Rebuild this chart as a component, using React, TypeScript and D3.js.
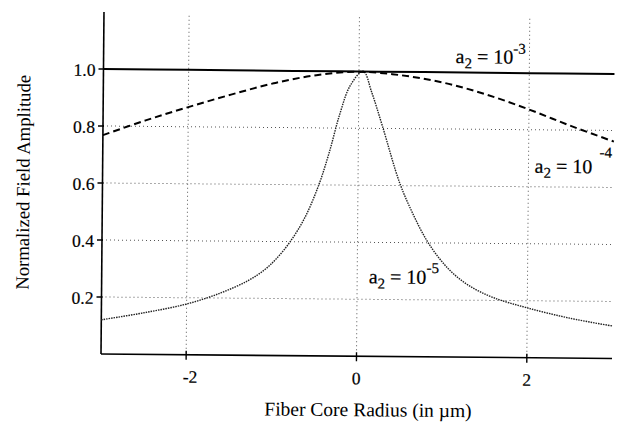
import React from 'react';
import * as d3 from 'd3';

// tick values
const xTicks = [-2, 0, 2];
const yTicks = [0.2, 0.4, 0.6, 0.8, 1.0];

// a2 = 1e-3 (solid)
const radiusA3 = [-3, -2, -1, 0, 1, 2, 3];
const ampA3 = [1.0, 1.0, 0.999, 0.999, 0.999, 0.998, 0.998];

// a2 = 1e-4 (dashed)
const radiusA4 = [-3, -2.5, -2, -1.5, -1, -0.5, 0, 0.5, 1, 1.5, 2, 2.5, 3];
const ampA4 = [0.768, 0.821, 0.869, 0.914, 0.955, 0.985, 0.998, 0.987, 0.962, 0.922, 0.871, 0.814, 0.761];

// a2 = 1e-5 (dotted)
const radiusA5 = [-3, -2.5, -2, -1.6, -1.28, -1.09, -0.95, -0.79, -0.62, -0.46, -0.34, -0.22, -0.1, 0.05, 0.15, 0.28, 0.49, 0.65, 0.81, 0.965, 1.12, 1.32, 1.6, 2, 2.5, 3];
const ampA5 = [0.12, 0.146, 0.178, 0.218, 0.262, 0.3, 0.34, 0.4, 0.485, 0.6, 0.715, 0.85, 0.95, 1.0, 0.928, 0.809, 0.609, 0.5, 0.41, 0.345, 0.295, 0.25, 0.21, 0.175, 0.14, 0.114];

const W = 624;
const H = 425;
const margin = { top: 12, right: 12, bottom: 71, left: 101 };
const font = '"Liberation Serif", "Times New Roman", "DejaVu Serif", serif';
const skew = 0.5; // the original scan is turned slightly clockwise

export default function App() {
  const x = d3.scaleLinear().domain([-3, 3]).range([margin.left, W - margin.right]);
  const y = d3.scaleLinear().domain([0, 1.2]).range([H - margin.bottom, margin.top]);

  const line = d3.line<[number, number]>()
    .x(d => x(d[0]))
    .y(d => y(d[1]))
    .curve(d3.curveCatmullRom.alpha(0.5));

  const pts = (xs: number[], ys: number[]) => xs.map((v, i) => [v, ys[i]] as [number, number]);

  const x0 = x(-3), x1 = x(3), yb = y(0), yt = y(1.2);
  const ink = { stroke: '#000', strokeWidth: 0.2, fontFamily: font };

  return (
    <svg width={W} height={H} style={{ position: 'absolute', left: 0, top: 0, background: '#fff', fontFamily: font }}>
      <g transform={`rotate(${skew}, ${x0}, ${yb})`}>
        {/* grid */}
        {xTicks.map(t => (
          <line key={'gx' + t} x1={x(t)} x2={x(t)} y1={yt + 3} y2={yb} stroke="#555" strokeWidth={1} strokeDasharray="1,3" />
        ))}
        {yTicks.filter(t => t < 1).map(t => (
          <line key={'gy' + t} x1={x0} x2={x1} y1={y(t)} y2={y(t)} stroke="#555" strokeWidth={1} strokeDasharray="1,3" />
        ))}

        {/* axes */}
        <line x1={x0} x2={x0} y1={yt} y2={yb} stroke="#000" strokeWidth={1.6} />
        <line x1={x0} x2={x1} y1={yb} y2={yb} stroke="#000" strokeWidth={1.6} />
        {yTicks.map(t => (
          <g key={'ty' + t}>
            <line x1={x0 - 5} x2={x0 + 1} y1={y(t)} y2={y(t)} stroke="#000" strokeWidth={1.4} />
            <text x={x0 - 8} y={y(t) + 7} textAnchor="end" fontSize={17.5} {...ink}>{t.toFixed(1)}</text>
          </g>
        ))}
        {xTicks.map(t => (
          <g key={'tx' + t}>
            <line x1={x(t)} x2={x(t)} y1={yb - 4} y2={yb + 5} stroke="#000" strokeWidth={1.4} />
            <text x={x(t) + (t < 0 ? 4 : 0)} y={yb + 28} textAnchor="middle" fontSize={17.5} {...ink}>{t < 0 ? '-' + Math.abs(t) : String(t)}</text>
          </g>
        ))}

        {/* curves */}
        <path d={line(pts(radiusA5, ampA5)) || ''} fill="none" stroke="#222" strokeWidth={1.4} strokeDasharray="1.5,1" />
        <path d={line(pts(radiusA4, ampA4)) || ''} fill="none" stroke="#000" strokeWidth={2} strokeDasharray="7,4" />
        <path d={line(pts(radiusA3, ampA3)) || ''} fill="none" stroke="#000" strokeWidth={2} />

        {/* labels */}
        <g fontSize={20}>
          <text x={453} y={60} {...ink}>a<tspan dy={5} fontSize={15}>2</tspan><tspan dy={-5}> = 10</tspan><tspan dy={-10} fontSize={15}>-3</tspan></text>
          <text x={533} y={169} {...ink}>a<tspan dy={5} fontSize={15}>2</tspan><tspan dy={-5}> = 10</tspan><tspan dx={7} dy={-16} fontSize={15}>-4</tspan></text>
          <text x={368} y={281} {...ink}>a<tspan dy={5} fontSize={15}>2</tspan><tspan dy={-5}> = 10</tspan><tspan dy={-11} fontSize={15}>-5</tspan></text>
        </g>

        {/* axis titles */}
        <text x={(x0 + x1) / 2 + 12} y={414} textAnchor="middle" fontSize={19.5}>Fiber Core Radius (in µm)</text>
        <text transform={`translate(28, ${(yt + yb) / 2}) rotate(-90)`} textAnchor="middle" fontSize={18.7}>Normalized Field Amplitude</text>
      </g>
    </svg>
  );
}
